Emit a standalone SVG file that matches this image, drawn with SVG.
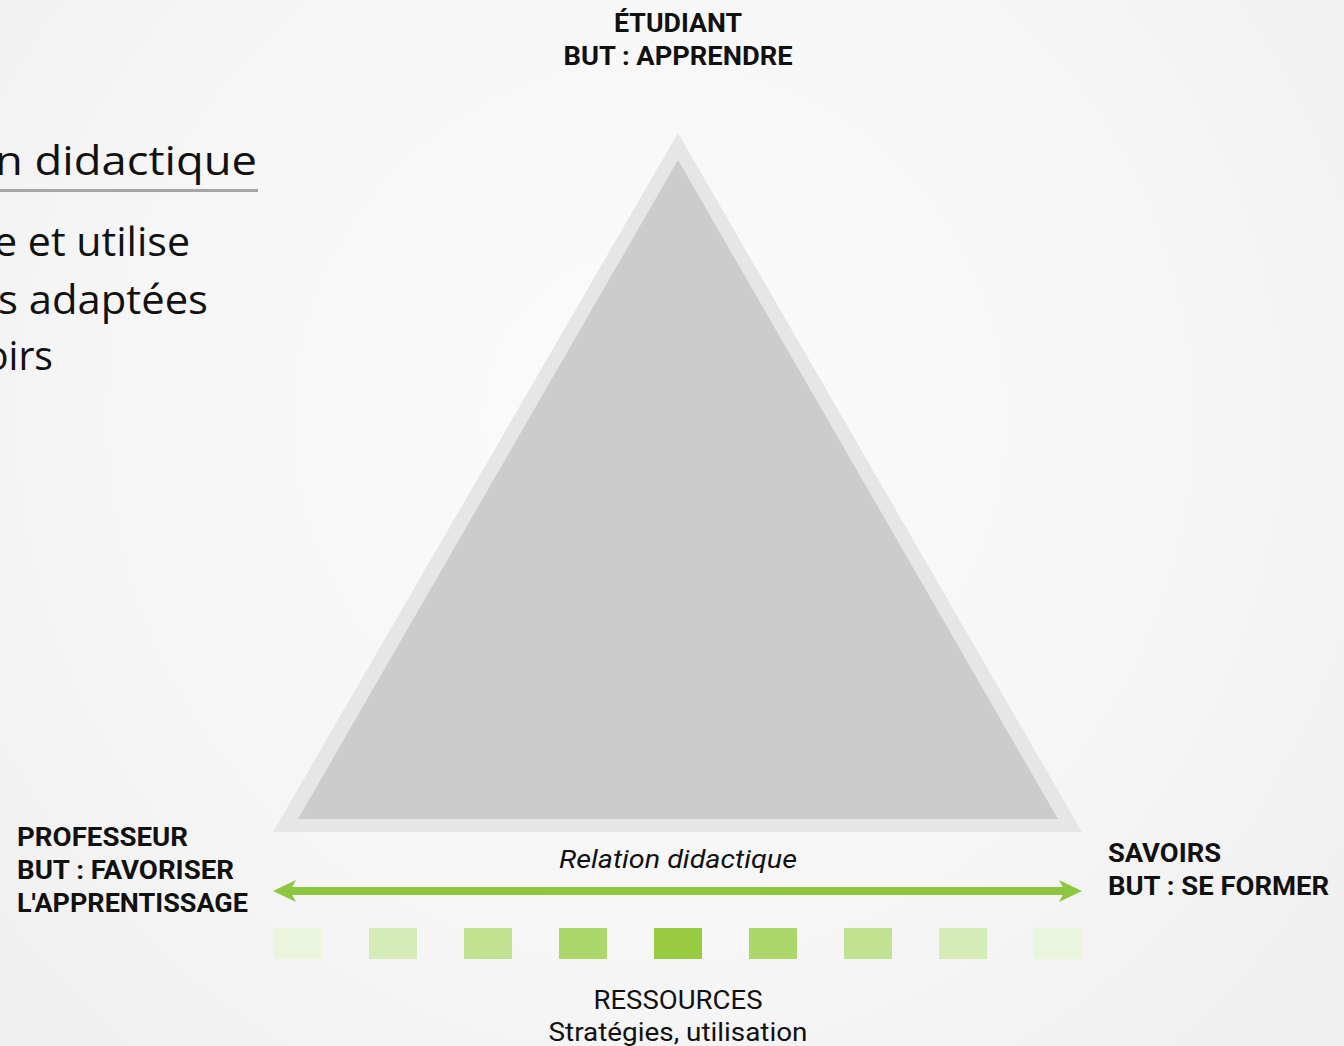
<svg xmlns="http://www.w3.org/2000/svg" width="1344" height="1046" viewBox="0 0 1344 1046">
  <defs>
    <radialGradient id="bg" cx="650" cy="420" r="900" gradientUnits="userSpaceOnUse">
      <stop offset="0" stop-color="#fbfbfb"/>
      <stop offset="0.6" stop-color="#f6f6f6"/>
      <stop offset="1" stop-color="#efefef"/>
    </radialGradient>
    <style>
      .lbl { font-family: Roboto, "Liberation Sans", sans-serif; font-weight: bold; font-size: 26px; fill: #111; }
      .reg { font-family: Roboto, "Liberation Sans", sans-serif; font-size: 26px; fill: #111; }
      .it { font-family: Roboto, "Liberation Sans", sans-serif; font-style: italic; font-size: 26px; fill: #111; }
      .side { font-family: "Open Sans", "Noto Sans", sans-serif; font-size: 40px; fill: #111; }
      .arrow { stroke: #8dc63f; stroke-width: 8; fill: none; }
      .head { fill: #8dc63f; }
    </style>
  </defs>
  <rect width="1344" height="1046" fill="url(#bg)"/>

  <g id="side-text">
    <text class="side" x="257" y="175" text-anchor="end" font-size="46" textLength="262" lengthAdjust="spacingAndGlyphs">n didactique</text>
    <rect x="0" y="189" width="258" height="3" fill="#a6a6a6"/>
    <text class="side" x="190" y="256" text-anchor="end" textLength="196" lengthAdjust="spacingAndGlyphs">e et utilise</text>
    <text class="side" x="208" y="314" text-anchor="end" textLength="210" lengthAdjust="spacingAndGlyphs">s adaptées</text>
    <text class="side" x="53" y="370" text-anchor="end" textLength="68" lengthAdjust="spacingAndGlyphs">oirs</text>
  </g>

  <g id="triangle">
    <polygon points="678,133 273,832 1082,832" fill="#e6e6e6"/>
    <polygon points="678,160 298,819 1058,819" fill="#cccccc"/>
  </g>

  <g id="etudiant">
    <text class="lbl" x="678" y="32" text-anchor="middle" textLength="128" lengthAdjust="spacingAndGlyphs">ÉTUDIANT</text>
    <text class="lbl" x="678" y="65" text-anchor="middle" textLength="229" lengthAdjust="spacingAndGlyphs">BUT : APPRENDRE</text>
  </g>

  <g id="professeur">
    <text class="lbl" x="17" y="846" textLength="171" lengthAdjust="spacingAndGlyphs">PROFESSEUR</text>
    <text class="lbl" x="17" y="879" textLength="217" lengthAdjust="spacingAndGlyphs">BUT : FAVORISER</text>
    <text class="lbl" x="17" y="912" textLength="231" lengthAdjust="spacingAndGlyphs">L'APPRENTISSAGE</text>
  </g>

  <g id="savoirs">
    <text class="lbl" x="1108" y="862" textLength="113" lengthAdjust="spacingAndGlyphs">SAVOIRS</text>
    <text class="lbl" x="1108" y="895" textLength="221" lengthAdjust="spacingAndGlyphs">BUT : SE FORMER</text>
  </g>

  <g id="connectors">
    <line class="arrow" x1="288" y1="891" x2="1067" y2="891"/>
    <polygon class="head" points="273,891 296,880 290,891 296,902"/>
    <polygon class="head" points="1082,891 1059,880 1065,891 1059,902"/>
    <text class="it" x="678" y="868" text-anchor="middle" textLength="238" lengthAdjust="spacingAndGlyphs">Relation didactique</text>
  </g>

  <g id="ressources">
    <rect x="273" y="928" width="48" height="31" fill="#ebf5de"/>
    <rect x="369" y="928" width="48" height="31" fill="#d6ecb6"/>
    <rect x="464" y="928" width="48" height="31" fill="#c1e291"/>
    <rect x="559" y="928" width="48" height="31" fill="#acd86b"/>
    <rect x="654" y="928" width="48" height="31" fill="#98ca42"/>
    <rect x="749" y="928" width="48" height="31" fill="#acd86b"/>
    <rect x="844" y="928" width="48" height="31" fill="#c1e291"/>
    <rect x="939" y="928" width="48" height="31" fill="#d6ecb6"/>
    <rect x="1034" y="928" width="48" height="31" fill="#ebf5de"/>
    <text class="reg" x="678" y="1009" text-anchor="middle" textLength="169" lengthAdjust="spacingAndGlyphs">RESSOURCES</text>
    <text class="reg" x="678" y="1041" text-anchor="middle" textLength="259" lengthAdjust="spacingAndGlyphs">Stratégies, utilisation</text>
  </g>
</svg>
